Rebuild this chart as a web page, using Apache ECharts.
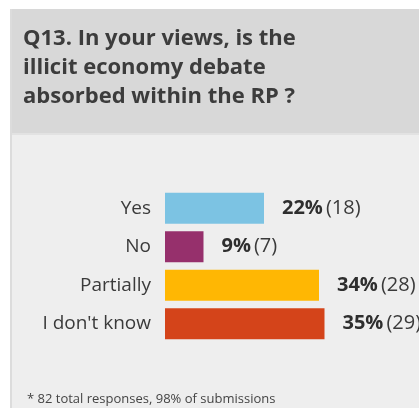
<!DOCTYPE html>
<html>
<head>
<meta charset="utf-8">
<script src="https://cdn.jsdelivr.net/npm/echarts@6/dist/echarts.min.js"></script>
<style>
  html, body { margin: 0; padding: 0; background: #ffffff; }
  #chart { width: 419px; height: 408px; }
</style>
</head>
<body>
<div id="chart"></div>
<script>
// Survey answers for Q13
const categories = ['Yes', 'No', 'Partially', "I don't know"];
const counts = [18, 7, 28, 29];
const percents = [22, 9, 34, 35];
const colors = ['#7cc3e3', '#96306c', '#ffb703', '#d4441a'];
const titleLines = ['Q13. In your views, is the', 'illicit economy debate', 'absorbed within the RP ?'];
const footnote = '* 82 total responses, 98% of submissions';

const FONT = '"Open Sans", sans-serif';
const chart = echarts.init(document.getElementById('chart'), null, { renderer: 'canvas' });

chart.setOption({
  animation: false,
  backgroundColor: '#ffffff',
  graphic: [
    // panel body
    { type: 'rect', z: -10, shape: { x: 10, y: 9, width: 420, height: 410 }, style: { fill: '#eeeeee' } },
    // header band
    { type: 'rect', z: -9, shape: { x: 10, y: 9, width: 420, height: 124 }, style: { fill: '#d8d8d8' } },
    { type: 'rect', z: -8, shape: { x: 10, y: 133, width: 420, height: 2 }, style: { fill: '#e2e2e2' } },
    // left edge
    { type: 'rect', z: -7, shape: { x: 10, y: 9, width: 2, height: 410 }, style: { fill: '#dcdcdc' } },
    {
      type: 'text', left: 23, top: 24,
      style: {
        text: titleLines.join('\n'),
        font: 'bold 22px ' + FONT,
        fill: '#3c3c3c',
        lineHeight: 29
      }
    },
    {
      type: 'text', left: 27, top: 393,
      style: { text: footnote, font: '13px ' + FONT, fill: '#444444' }
    }
  ],
  grid: { left: 165, top: 189, height: 154, width: 220, containLabel: false },
  xAxis: { type: 'value', min: 0, max: 40, show: false },
  yAxis: {
    type: 'category', data: categories, inverse: true,
    axisLine: { show: false }, axisTick: { show: false },
    axisLabel: { margin: 14, fontFamily: FONT, fontSize: 19, color: '#3a3a3a' }
  },
  series: [{
    type: 'bar',
    barCategoryGap: '19%',
    data: counts.map((v, i) => ({ value: v, itemStyle: { color: colors[i] } })),
    label: {
      show: true, position: 'right', distance: 18,
      formatter: p => '{b|' + percents[p.dataIndex] + '%}{s|}{r|(' + counts[p.dataIndex] + ')}',
      rich: {
        b: { fontFamily: FONT, fontWeight: 'bold', fontSize: 20, color: '#2e2e2e' },
        s: { width: 3 },
        r: { fontFamily: FONT, fontSize: 20, color: '#3a3a3a' }
      }
    }
  }]
});
</script>
</body>
</html>
